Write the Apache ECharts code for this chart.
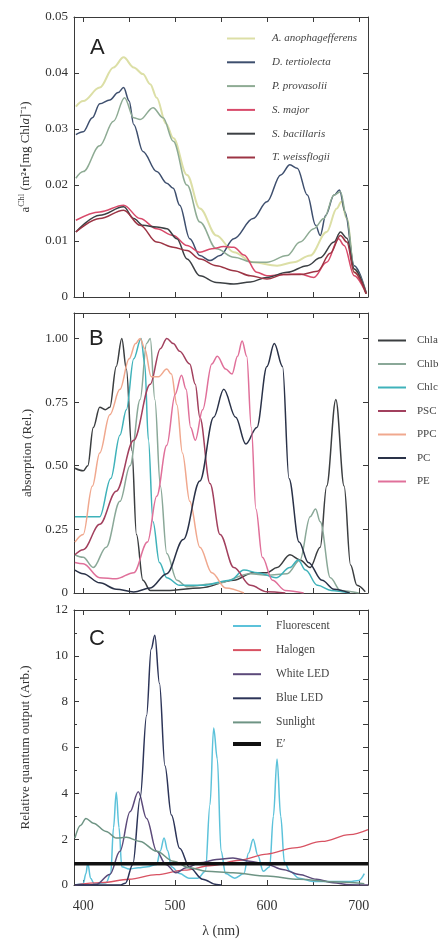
<!DOCTYPE html>
<html>
<head>
<meta charset="utf-8">
<script src="https://cdn.jsdelivr.net/npm/echarts@6/dist/echarts.min.js"></script>
<style>
  html, body { margin: 0; padding: 0; background: #fff; }
  #chart { width: 443px; height: 939px; }
</style>
</head>
<body>
<div id="chart"></div>
<script>
// wavelength axis (nm)
const xTicks = [400, 450, 500, 550, 600, 650, 700];
const xLabels = [400, 500, 600, 700];
const yTicksA = [0, 0.01, 0.02, 0.03, 0.04, 0.05];
const yTicksB = [0, 0.25, 0.5, 0.75, 1];

// ---- panel A: chl-specific absorption, [nm, value]
const anophagefferens = [[392,0.034],[400,0.035],[418,0.0374],[433,0.041],[444,0.0428],[455,0.041],[465,0.0398],[473,0.038],[480,0.0356],[490,0.031],[498,0.0284],[513,0.0218],[527,0.0158],[545,0.011],[564,0.008],[585,0.0062],[611,0.0056],[629,0.0062],[647,0.0074],[665,0.0116],[676,0.0158],[681,0.017],[687,0.014],[695,0.0044],[708,0.0006]];
const tertiolecta = [[392,0.029],[400,0.0295],[410,0.032],[418,0.0345],[429,0.0352],[438,0.0365],[444,0.0374],[450,0.035],[455,0.0308],[465,0.026],[480,0.0224],[491,0.0203],[498,0.0194],[505,0.0164],[516,0.0104],[527,0.0074],[538,0.0065],[549,0.0074],[564,0.0104],[585,0.014],[600,0.017],[615,0.0218],[625,0.0236],[633,0.023],[644,0.0182],[653,0.0128],[658,0.011],[664,0.0146],[673,0.0182],[679,0.0191],[685,0.0152],[695,0.0056],[708,0.0008]];
const provasolii = [[392,0.0212],[400,0.0224],[418,0.027],[433,0.0314],[445,0.0356],[455,0.032],[462,0.0317],[476,0.0338],[487,0.032],[498,0.0278],[513,0.02],[527,0.0134],[545,0.0086],[564,0.0071],[585,0.0062],[600,0.0062],[622,0.0074],[636,0.0098],[651,0.0122],[662,0.014],[673,0.0182],[680,0.0188],[687,0.014],[695,0.005],[708,0.0008]];
const major = [[392,0.0137],[418,0.0152],[444,0.0164],[462,0.014],[480,0.0122],[498,0.011],[513,0.0092],[527,0.008],[540,0.0086],[553,0.009],[564,0.0089],[575,0.0075],[589,0.0044],[600,0.0038],[618,0.004],[636,0.0041],[651,0.0035],[665,0.0062],[678,0.0104],[684,0.0092],[695,0.0038],[708,0.0006]];
const bacillaris = [[392,0.0116],[418,0.0146],[444,0.0161],[455,0.014],[465,0.0128],[480,0.0125],[491,0.0122],[502,0.0104],[513,0.0068],[527,0.0038],[545,0.0026],[564,0.0023],[582,0.0027],[600,0.0035],[622,0.0044],[644,0.0056],[658,0.007],[673,0.0098],[680,0.0116],[687,0.0105],[695,0.005],[708,0.0006]];
const weissflogii = [[392,0.0116],[418,0.014],[444,0.0155],[462,0.0128],[480,0.0098],[498,0.0089],[513,0.0083],[527,0.0068],[545,0.0056],[564,0.0047],[582,0.0038],[600,0.0032],[618,0.004],[636,0.004],[655,0.0046],[669,0.0078],[680,0.011],[687,0.0098],[695,0.0044],[708,0.0006]];

// ---- panel B: pigment absorption (relative)
const chla = [[391,0.49],[400,0.48],[405,0.5],[411,0.65],[418,0.73],[424,0.72],[429,0.73],[436,0.89],[442,1.0],[447,0.88],[453,0.56],[458,0.23],[465,0.05],[473,0.01],[491,0.01],[527,0.02],[564,0.05],[585,0.08],[600,0.08],[611,0.1],[625,0.15],[636,0.13],[647,0.1],[658,0.18],[665,0.42],[675,0.76],[684,0.42],[691,0.11],[698,0.03],[707,0.005]];
const chlb = [[391,0.15],[400,0.14],[411,0.1],[425,0.18],[440,0.36],[451,0.5],[462,0.76],[469,0.98],[473,1.0],[478,0.76],[484,0.42],[491,0.155],[502,0.05],[513,0.025],[545,0.037],[582,0.076],[600,0.07],[622,0.076],[636,0.13],[647,0.3],[653,0.33],[658,0.28],[669,0.06],[680,0.01],[700,0]];
const chlc = [[391,0.3],[400,0.3],[418,0.3],[430,0.45],[440,0.62],[447,0.72],[455,0.92],[463,1.0],[467,0.9],[471,0.6],[476,0.28],[483,0.12],[491,0.06],[505,0.03],[530,0.03],[560,0.05],[575,0.09],[590,0.08],[610,0.06],[625,0.1],[634,0.13],[642,0.09],[655,0.03],[670,0.01],[690,0]];
const psc = [[391,0.15],[400,0.17],[418,0.27],[436,0.4],[455,0.6],[473,0.82],[484,0.96],[491,1.0],[498,0.98],[505,0.95],[516,0.9],[522,0.82],[527,0.69],[538,0.43],[549,0.23],[564,0.1],[582,0.03],[600,0.005],[620,0]];
const ppc = [[391,0.2],[400,0.23],[410,0.42],[418,0.55],[429,0.7],[440,0.8],[450,0.92],[457,0.98],[462,1.0],[467,0.96],[474,0.85],[482,0.85],[491,0.88],[496,0.86],[502,0.74],[508,0.55],[516,0.36],[527,0.18],[540,0.08],[555,0.02],[575,0]];
const pc = [[391,0.09],[400,0.076],[418,0.04],[436,0.015],[455,0.004],[473,0.02],[491,0.076],[509,0.21],[527,0.44],[542,0.69],[553,0.8],[566,0.69],[577,0.585],[589,0.65],[600,0.89],[608,0.98],[617,0.89],[624,0.45],[635,0.2],[645,0.12],[660,0.05],[673,0.015],[690,0]];
const pe = [[391,0.12],[400,0.115],[418,0.06],[436,0.056],[455,0.08],[470,0.2],[480,0.38],[491,0.58],[500,0.78],[507,0.855],[512,0.8],[517,0.65],[522,0.6],[530,0.72],[540,0.9],[546,0.93],[555,0.88],[562,0.86],[568,0.93],[573,0.99],[578,0.93],[583,0.65],[588,0.33],[595,0.14],[606,0.05],[620,0.01],[640,0]];

// ---- panel C: light source spectra
const fluorescent = [[391,0],[400,0.05],[403,0.5],[405,0.97],[408,0.3],[412,0.05],[425,0.1],[430,0.5],[433,2.5],[436,4.05],[439,2.5],[442,0.8],[450,0.7],[460,0.75],[470,0.8],[480,0.9],[484,1.5],[488,2.05],[492,1.5],[496,0.8],[505,0.5],[515,0.3],[525,0.3],[533,0.6],[538,3.5],[542,6.85],[546,5.5],[550,1.5],[555,0.5],[565,0.3],[575,0.5],[580,1.4],[585,2.0],[590,1.3],[596,0.6],[603,0.8],[607,3.0],[611,5.5],[615,3.0],[619,1.0],[625,0.6],[635,0.3],[650,0.15],[670,0.15],[690,0.15],[700,0.2],[706,0.5]];
const halogen = [[391,0],[420,0.1],[450,0.25],[480,0.45],[510,0.65],[540,0.85],[570,1.08],[600,1.35],[630,1.62],[660,1.9],[690,2.2],[710,2.42]];
const whiteLed = [[391,0],[405,0],[414,0.02],[429,0.46],[440,1.47],[451,3.2],[460,4.07],[469,2.9],[480,1.47],[490,0.9],[501,0.53],[512,0.75],[527,0.97],[545,1.11],[563,1.18],[581,1.04],[600,0.9],[617,0.68],[635,0.46],[654,0.25],[672,0.1],[690,0.01],[710,0]];
const blueLed = [[391,0],[440,0],[446,0.08],[454,0.9],[462,3.8],[469,7.4],[474,10.3],[478,10.9],[483,8.8],[489,5.2],[496,3.06],[505,1.6],[516,0.75],[530,0.25],[545,0.02],[550,0]];
const sunlight = [[391,2.05],[397,2.6],[403,2.9],[411,2.7],[425,2.34],[436,2.05],[447,2.08],[462,1.9],[480,1.47],[498,1.04],[516,0.75],[534,0.6],[563,0.53],[600,0.39],[635,0.25],[672,0.14],[706,0.06]];
const ePrime = [[390,0.93],[710,0.93]];

const serif = 'Liberation Serif';
const axisColor = '#3a3a3a';

let mycharts = echarts.init(document.getElementById('chart'));

function xAxes(grid, showLabels) {
  const common = {
    gridIndex: grid,
    type: 'value',
    min: 390,
    max: 710,
    splitLine: { show: false },
    axisLine: { show: true, onZero: false, lineStyle: { color: axisColor, width: 1 } },
    axisTick: { inside: true, length: 5, customValues: xTicks, lineStyle: { color: axisColor } },
  };
  const bottom = Object.assign({}, common, {
    position: 'bottom',
    axisLabel: {
      show: showLabels,
      customValues: xLabels,
      margin: 14,
      color: '#333',
      fontFamily: serif,
      fontSize: 14,
    },
  });
  if (showLabels) {
    bottom.name = 'λ (nm)';
    bottom.nameLocation = 'middle';
    bottom.nameGap = 39;
    bottom.nameTextStyle = { color: '#333', fontFamily: serif, fontSize: 14 };
  }
  const top = Object.assign({}, common, { position: 'top', axisLabel: { show: false } });
  return [bottom, top];
}

function yAxes(grid, cfg) {
  const left = {
    gridIndex: grid,
    type: 'value',
    position: 'left',
    min: cfg.min,
    max: cfg.max,
    interval: cfg.interval,
    name: cfg.name,
    nameLocation: 'middle',
    nameRotate: 90,
    nameGap: cfg.nameGap,
    nameTextStyle: Object.assign({ color: '#333', fontFamily: serif, fontSize: 13 }, cfg.nameStyle || {}),
    splitLine: { show: false },
    axisLine: { show: true, lineStyle: { color: axisColor, width: 1 } },
    axisTick: { show: true, inside: true, length: 5, customValues: cfg.ticks, lineStyle: { color: axisColor } },
    minorTick: cfg.minor ? { show: true, splitNumber: 2, length: 3, lineStyle: { color: axisColor } } : { show: false },
    axisLabel: {
      customValues: cfg.ticks,
      margin: 6,
      color: '#333',
      fontFamily: serif,
      fontSize: 13,
      formatter: cfg.fmt,
    },
  };
  const right = {
    gridIndex: grid,
    type: 'value',
    position: 'right',
    min: cfg.min,
    max: cfg.max,
    interval: cfg.rightInterval || cfg.interval,
    splitLine: { show: false },
    axisLine: { show: true, lineStyle: { color: axisColor, width: 1 } },
    axisTick: { show: true, inside: true, length: 5, customValues: cfg.ticks, lineStyle: { color: axisColor } },
    axisLabel: { show: false },
  };
  return [left, right];
}

function line(name, data, color, grid, width) {
  return {
    name: name,
    type: 'line',
    xAxisIndex: grid * 2,
    yAxisIndex: grid * 2,
    data: data,
    smooth: 0.35,
    smoothMonotone: 'x',
    symbol: 'none',
    lineStyle: { color: color, width: width || 1.5 },
    itemStyle: { color: color },
    z: 3,
  };
}

// flat bar icons stand in for line samples
const legendBase = {
  orient: 'vertical',
  padding: 0,
  icon: 'rect',
  itemWidth: 28,
  itemHeight: 2,
  selectedMode: false,
};

mycharts.setOption({
  animation: false,
  grid: [
    { left: 74, top: 17, width: 294, height: 280 },
    { left: 74, top: 313, width: 294, height: 280 },
    { left: 74, top: 610, width: 294, height: 277 },
  ],
  xAxis: [...xAxes(0, false), ...xAxes(1, false), ...xAxes(2, true)],
  yAxis: [
    ...yAxes(0, {
      min: 0, max: 0.05, interval: 0.01, ticks: yTicksA, nameGap: 40,
      name: 'a{sup|Chl} (m²•[mg Chl{i|a}]⁻¹)',
      nameStyle: { rich: { i: { fontFamily: serif, fontSize: 13, fontStyle: 'italic', color: '#333' }, sup: { fontFamily: serif, fontSize: 9, color: '#333', padding: [0, 0, 8, 0] } } },
      fmt: (v) => (v === 0 ? '0' : v.toFixed(2)),
    }),
    ...yAxes(1, {
      min: 0, max: 1.1, ticks: yTicksB, nameGap: 38,
      name: 'absorption (Rel.)',
      fmt: (v) => (v === 0 ? '0' : v.toFixed(2)),
    }),
    ...yAxes(2, {
      min: 0, max: 12, interval: 2, rightInterval: 1, minor: true, nameGap: 42,
      name: 'Relative quantum output (Arb.)',
      fmt: (v) => String(v),
    }),
  ],
  legend: [
    Object.assign({}, legendBase, {
      left: 227, top: 33, itemGap: 12.8,
      data: ['A. anophagefferens', 'D. tertiolecta', 'P. provasolii', 'S. major', 'S. bacillaris', 'T. weissflogii'],
      textStyle: { fontFamily: serif, fontSize: 11, fontStyle: 'italic', color: '#444', padding: [0, 0, 0, 12] },
    }),
    Object.assign({}, legendBase, {
      left: 378, top: 335, itemGap: 12.5,
      data: ['Chla', 'Chlb', 'Chlc', 'PSC', 'PPC', 'PC', 'PE'],
      textStyle: { fontFamily: serif, fontSize: 11, color: '#444', padding: [0, 0, 0, 6] },
    }),
    Object.assign({}, legendBase, {
      left: 233, top: 620, itemGap: 12.1,
      data: ['Fluorescent', 'Halogen', 'White LED', 'Blue LED', 'Sunlight'],
      textStyle: { fontFamily: serif, fontSize: 11.5, color: '#444', padding: [0, 0, 0, 10] },
    }),
    Object.assign({}, legendBase, {
      left: 233, top: 738, itemHeight: 4,
      data: ['E′'],
      textStyle: { fontFamily: serif, fontSize: 11.5, color: '#444', padding: [0, 0, 0, 10] },
    }),
  ],
  graphic: [
    { type: 'text', left: 90, top: 37, style: { text: 'A', font: '22px "Liberation Sans"', fill: '#222' } },
    { type: 'text', left: 89, top: 328, style: { text: 'B', font: '22px "Liberation Sans"', fill: '#222' } },
    { type: 'text', left: 89, top: 628, style: { text: 'C', font: '22px "Liberation Sans"', fill: '#222' } },
  ],
  series: [
    line('A. anophagefferens', anophagefferens, '#dcdfa6', 0, 2),
    line('D. tertiolecta', tertiolecta, '#3e4f6e', 0),
    line('P. provasolii', provasolii, '#8eab94', 0),
    line('S. major', major, '#d84a6a', 0),
    line('S. bacillaris', bacillaris, '#3c4044', 0),
    line('T. weissflogii', weissflogii, '#9c3444', 0),

    line('Chla', chla, '#3b3e40', 1),
    line('Chlb', chlb, '#8aa898', 1),
    line('Chlc', chlc, '#3fb2ba', 1),
    line('PSC', psc, '#a2405e', 1),
    line('PPC', ppc, '#f0a88e', 1),
    line('PC', pc, '#2a3248', 1),
    line('PE', pe, '#e0709a', 1),

    line('Fluorescent', fluorescent, '#5cc2da', 2),
    line('Halogen', halogen, '#d85262', 2, 1.3),
    line('White LED', whiteLed, '#5c4a7a', 2),
    line('Blue LED', blueLed, '#2c3458', 2),
    line('Sunlight', sunlight, '#6e9484', 2),
    line('E′', ePrime, '#111111', 2, 3.5),
  ],
});
</script>
</body>
</html>
